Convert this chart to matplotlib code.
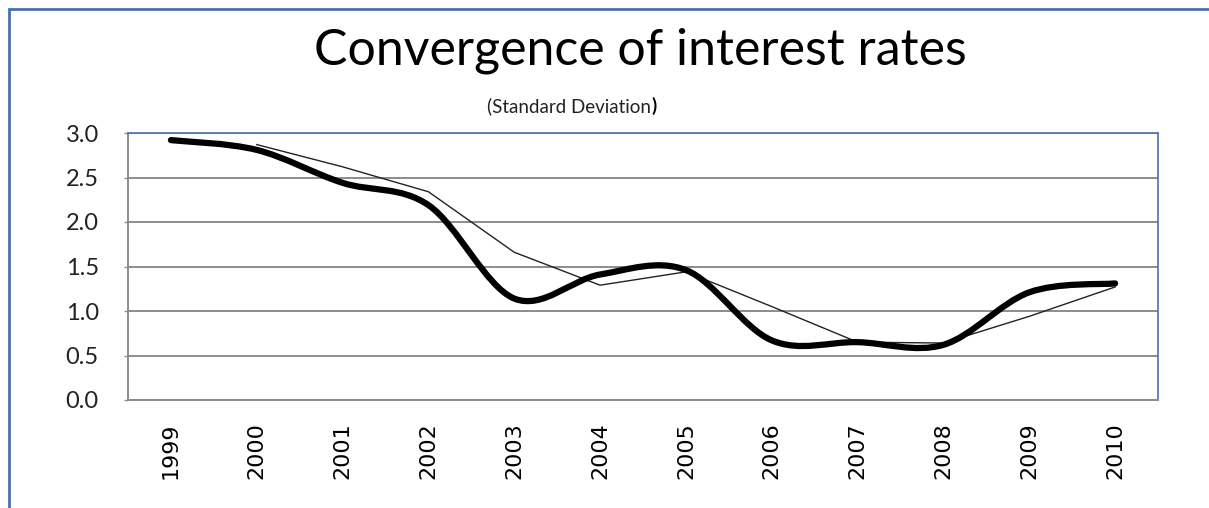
import matplotlib.pyplot as plt
import numpy as np
from matplotlib.path import Path
from matplotlib.patches import PathPatch, Rectangle

# data
years = ['1999', '2000', '2001', '2002', '2003', '2004',
         '2005', '2006', '2007', '2008', '2009', '2010']
smooth_vals = [2.92, 2.81, 2.44, 2.19, 1.14, 1.41,
               1.46, 0.67, 0.65, 0.62, 1.21, 1.31]
thin_vals = [None, 2.87, 2.62, 2.34, 1.66, 1.29,
             1.44, 1.05, 0.65, 0.64, 0.94, 1.27]
y_ticks = [0.0, 0.5, 1.0, 1.5, 2.0, 2.5, 3.0]

TITLE = 'Convergence of interest rates'
SUBTITLE = '(Standard Deviation'

BLUE = '#4a72a8'
GRID = '#8c8c8c'


# Excel style smoothed line: cubic bezier through each point
def smooth_path(xs, ys, t=1.0 / 6):
    n = len(xs)
    pts = np.column_stack([xs, ys]).astype(float)
    verts = [pts[0]]
    codes = [Path.MOVETO]
    for i in range(n - 1):
        p0 = pts[max(i - 1, 0)]
        p1 = pts[i]
        p2 = pts[i + 1]
        p3 = pts[min(i + 2, n - 1)]
        c1 = p1 + (p2 - p0) * t
        c2 = p2 - (p3 - p1) * t
        verts += [c1, c2, p2]
        codes += [Path.CURVE4] * 3
    return Path(verts, codes)


fig = plt.figure(figsize=(12.09, 5.08), dpi=100)
ax = fig.add_axes([128 / 1209, 1 - 400 / 508, 1030 / 1209, 267 / 508])

x = np.arange(len(years))

# thin line, straight segments
tx = [i for i, v in enumerate(thin_vals) if v is not None]
ty = [v for v in thin_vals if v is not None]
ax.plot(tx, ty, color='#222222', lw=1.0, zorder=3)

# thick smoothed line
patch = PathPatch(smooth_path(x, smooth_vals), facecolor='none',
                  edgecolor='black', lw=4.5, capstyle='round',
                  joinstyle='round', zorder=4)
ax.add_patch(patch)

ax.set_xlim(-0.5, len(years) - 0.5)
ax.set_ylim(0, 3.0)
ax.set_yticks(y_ticks)
ax.set_yticklabels([f'{v:.1f}' for v in y_ticks],
                   fontfamily='Lato', fontsize=17, color='#222222')
ax.set_xticks(x)
ax.set_xticklabels(years, rotation=90, fontfamily='DejaVu Sans',
                   fontsize=16, color='black')
ax.tick_params(axis='y', length=3, width=1, color=GRID, pad=18)
ax.tick_params(axis='x', length=0, pad=16)
ax.yaxis.grid(True, color=GRID, lw=1.4)
ax.set_axisbelow(True)

for side in ['top', 'right']:
    ax.spines[side].set_color(BLUE)
    ax.spines[side].set_linewidth(1.2)
for side in ['left', 'bottom']:
    ax.spines[side].set_color(GRID)
    ax.spines[side].set_linewidth(1.4)

# titles
fig.text(640 / 1209, 1 - 51 / 508, TITLE, ha='center', va='center',
         fontfamily='Lato', fontsize=36, color='black')
fig.text(651 / 1209, 1 - 106 / 508, SUBTITLE, ha='right', va='center',
         fontfamily='Lato', fontsize=13.5, color='#222222')
fig.text(651 / 1209, 1 - 106 / 508, ')', ha='left', va='center',
         fontfamily='Lato', fontsize=13.5, fontweight='bold', color='black')

# outer chart border
fig.patches.append(Rectangle((9 / 1209, -0.1), 1.2, 1 - 9 / 508 + 0.1,
                             transform=fig.transFigure, fill=False,
                             edgecolor=BLUE, lw=2.0))

fig.savefig('out.png', dpi=100)
